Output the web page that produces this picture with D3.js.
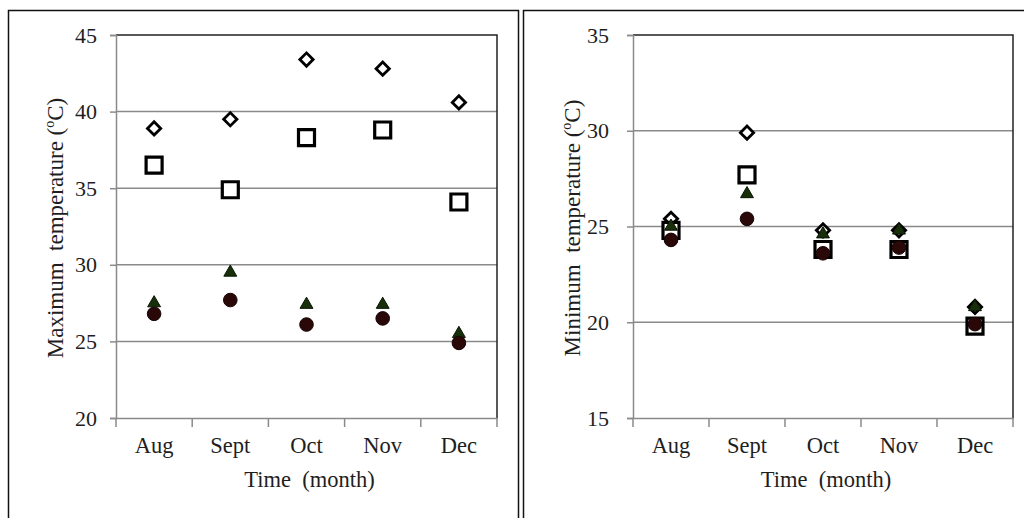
<!DOCTYPE html>
<html><head><meta charset="utf-8">
<script src="https://cdn.jsdelivr.net/npm/d3@7"></script>
<style>html,body{margin:0;padding:0;background:#fff;}svg{display:block;}</style>
</head><body>
<svg id="chart" width="1024" height="518"></svg>
<script>
const months = ["Aug", "Sept", "Oct", "Nov", "Dec"];

// Maximum temperature panel
const maxTicks = [20, 25, 30, 35, 40, 45];
const maxDiamond = [38.9, 39.5, 43.4, 42.8, 40.6];
const maxSquare = [36.5, 34.9, 38.3, 38.8, 34.1];
const maxTriangle = [27.5, 29.5, 27.4, 27.4, 25.5];
const maxCircle = [26.8, 27.7, 26.1, 26.5, 24.9];

// Minimum temperature panel
const minTicks = [15, 20, 25, 30, 35];
const minDiamond = [25.4, 29.9, 24.8, 24.8, 20.8];
const minSquare = [24.8, 27.7, 23.8, 23.8, 19.8];
const minTriangle = [25.0, 26.7, 24.6, 24.8, 20.8];
const minCircle = [24.3, 25.4, 23.6, 23.9, 19.9];

const svg = d3.select("#chart");
const FONT = "'Liberation Serif', 'Times New Roman', serif";
const TXT = "#1e1e1e";

function panel(cfg) {
  // outer frame
  svg.append("rect").attr("x", cfg.frame[0]).attr("y", cfg.frame[1])
    .attr("width", cfg.frame[2]).attr("height", cfg.frame[3])
    .attr("fill", "none").attr("stroke", "#111").attr("stroke-width", 1.5);

  const x = d3.scaleBand().domain(months).range([cfg.left, cfg.right]);
  const y = d3.scaleLinear().domain([cfg.ticks[0], cfg.ticks[cfg.ticks.length - 1]])
    .range([cfg.bottom, cfg.top]);
  const g = svg.append("g");

  // gridlines
  g.selectAll(".grid").data(cfg.ticks.slice(1, -1)).join("line")
    .attr("x1", cfg.left).attr("x2", cfg.right)
    .attr("y1", d => y(d)).attr("y2", d => y(d))
    .attr("stroke", "#8a8a8a").attr("stroke-width", 1.5);

  // top & right frame (dark)
  g.append("path")
    .attr("d", `M${cfg.left},${y(cfg.ticks[cfg.ticks.length-1])}H${cfg.right}V${cfg.bottom}`)
    .attr("fill", "none").attr("stroke", "#222").attr("stroke-width", 1.5);

  // y axis
  const ya = d3.axisLeft(y).tickValues(cfg.ticks).tickSize(6).tickPadding(cfg.ypad).tickFormat(d3.format("d"));
  const yg = g.append("g").attr("transform", `translate(${cfg.left},0)`).call(ya);
  yg.select(".domain").attr("stroke", "#8a8a8a").attr("stroke-width", 1.5);
  yg.selectAll(".tick line").attr("stroke", "#8a8a8a").attr("stroke-width", 1.5);
  yg.selectAll(".tick text").attr("font-family", FONT).attr("font-size", 22).attr("fill", TXT);

  // x axis: ticks at band boundaries
  const xa = d3.axisBottom(x).tickSize(0).tickPadding(19);
  const xg = g.append("g").attr("transform", `translate(0,${cfg.bottom})`).call(xa);
  xg.select(".domain").attr("stroke", "#8a8a8a").attr("stroke-width", 1.5);
  xg.selectAll(".tick text").attr("font-family", FONT).attr("font-size", 22.5).attr("fill", TXT);
  const bounds = months.map(m => x(m)).concat([x(months[months.length - 1]) + x.bandwidth()]);
  g.selectAll(".xt").data(bounds).join("line")
    .attr("x1", d => d).attr("x2", d => d)
    .attr("y1", cfg.bottom).attr("y2", cfg.bottom + 9)
    .attr("stroke", "#8a8a8a").attr("stroke-width", 1.5);

  // axis titles
  g.append("text").attr("x", (cfg.left + cfg.right) / 2 + 3).attr("y", 487)
    .attr("text-anchor", "middle").attr("font-family", FONT).attr("font-size", 22.5).attr("fill", TXT)
    .text("Time\u00a0\u00a0(month)");
  const yt = g.append("text")
    .attr("transform", `translate(${cfg.titleX},${cfg.titleY}) rotate(-90)`)
    .attr("text-anchor", "middle").attr("font-family", FONT).attr("font-size", 23).attr("fill", TXT);
  yt.append("tspan").text(cfg.title + "\u00a0\u00a0temperature (");
  yt.append("tspan").attr("font-size", 14).attr("dy", -9).text("o");
  yt.append("tspan").attr("dy", 9).text("C)");

  const cx = i => x(months[i]) + x.bandwidth() / 2;

  // diamonds
  g.selectAll(".dia").data(cfg.diamond).join("path")
    .attr("d", d3.symbol(d3.symbolSquare, 88)())
    .attr("transform", (d, i) => `translate(${cx(i)},${y(d)}) rotate(45)`)
    .attr("fill", "#fff").attr("stroke", "#000").attr("stroke-width", 2.8);
  // squares
  g.selectAll(".sq").data(cfg.square).join("path")
    .attr("d", d3.symbol(d3.symbolSquare, 256)())
    .attr("transform", (d, i) => `translate(${cx(i)},${y(d)})`)
    .attr("fill", "#fff").attr("stroke", "#000").attr("stroke-width", 3.2);
  // triangles
  g.selectAll(".tri").data(cfg.triangle).join("path")
    .attr("d", d3.symbol(d3.symbolTriangle, 72)())
    .attr("transform", (d, i) => `translate(${cx(i)},${y(d)})`)
    .attr("fill", "#17300a").attr("stroke", "#0a1404").attr("stroke-width", 1);
  // circles
  g.selectAll(".cir").data(cfg.circle).join("circle")
    .attr("cx", (d, i) => cx(i)).attr("cy", d => y(d)).attr("r", 6.8)
    .attr("fill", "#2a0808").attr("stroke", "#160404").attr("stroke-width", 1);
}

panel({
  frame: [8.5, 10.5, 510, 515], left: 116, right: 497, top: 35, bottom: 418,
  ticks: maxTicks, ypad: 13, title: "Maximum", titleX: 63, titleY: 228,
  diamond: maxDiamond, square: maxSquare, triangle: maxTriangle, circle: maxCircle
});
panel({
  frame: [523.5, 10.5, 510, 515], left: 633, right: 1013, top: 35, bottom: 418,
  ticks: minTicks, ypad: 18, title: "Minimum", titleX: 580, titleY: 228,
  diamond: minDiamond, square: minSquare, triangle: minTriangle, circle: minCircle
});
</script>
</body></html>
